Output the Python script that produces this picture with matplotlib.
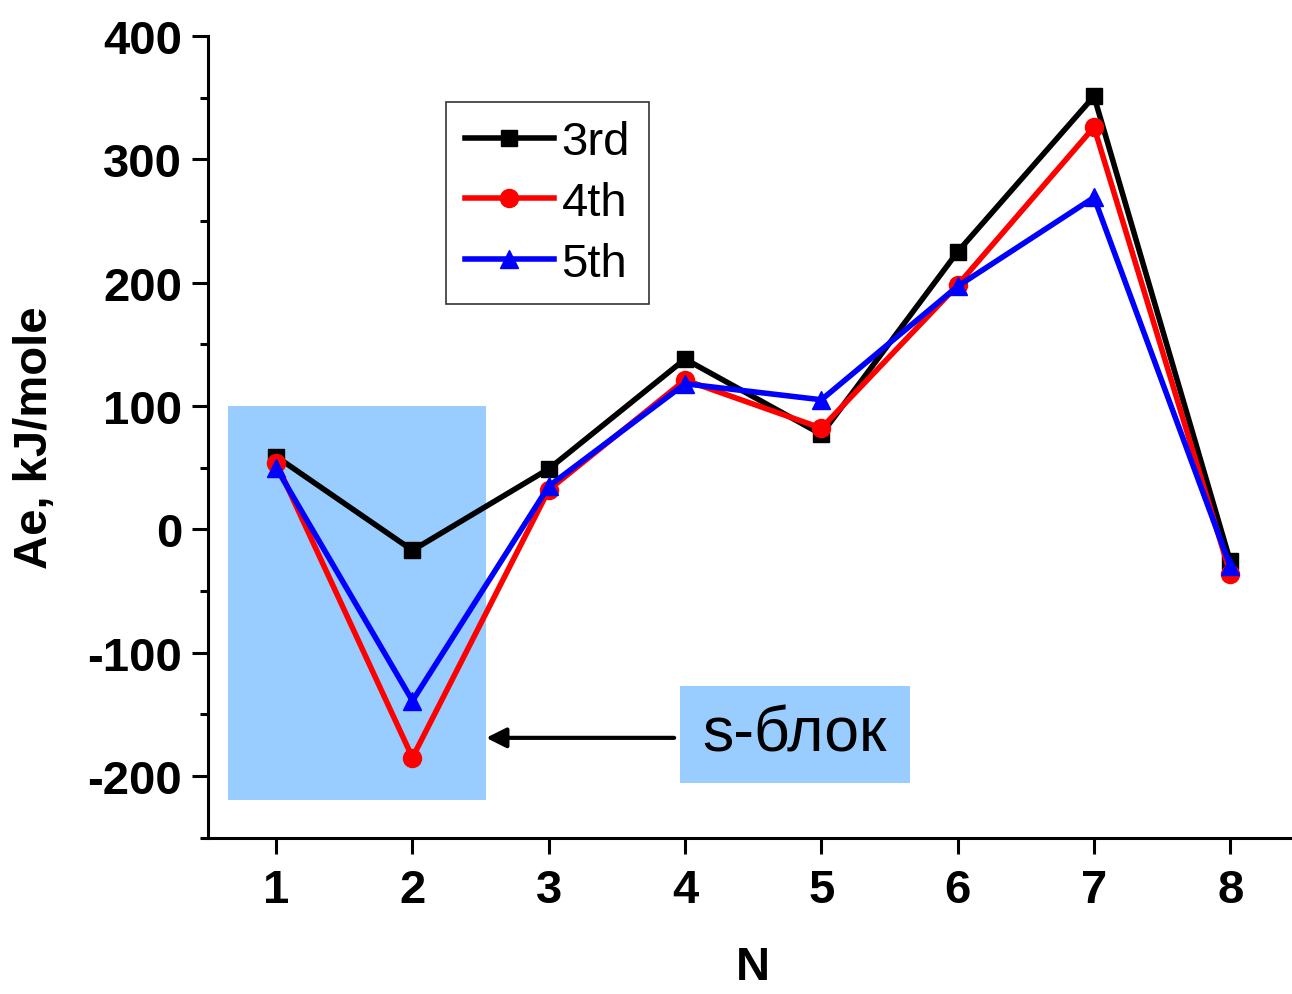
import matplotlib
matplotlib.use("Agg")
import matplotlib.pyplot as plt
from matplotlib.patches import Rectangle
from matplotlib.ticker import MultipleLocator

plt.rcParams['font.family'] = ['Liberation Sans', 'DejaVu Sans']
plt.rcParams['axes.unicode_minus'] = False

n = [1, 2, 3, 4, 5, 6, 7, 8]
third = [59, -17, 49, 138, 77, 225, 351, -26]
fourth = [54, -185, 32, 121, 82, 198, 326, -36]
fifth = [50, -139, 35, 118, 105, 197, 269, -30]
labels = ["3rd", "4th", "5th"]

fig = plt.figure(figsize=(12.92, 9.95), dpi=100)
ax = fig.add_axes([0.161, 0.157, 0.844, 0.806])

# s-block highlight
ax.add_patch(Rectangle((0.65, -219), 1.89, 319, facecolor="#99ccff", edgecolor="none", zorder=0))
ax.add_patch(Rectangle((3.96, -206), 1.69, 79, facecolor="#99ccff", edgecolor="none", zorder=0))
ax.text(4.8, -166, "s-блок", fontsize=45, ha="center", va="center", zorder=1)
ax.annotate("", xy=(2.54, -169), xytext=(3.92, -169),
            arrowprops=dict(arrowstyle="-|>", color="black", lw=3, mutation_scale=30,
                            shrinkA=0, shrinkB=0), zorder=1)

ax.plot(n, third, color="black", lw=4, marker="s", ms=11.5, label=labels[0], zorder=3)
ax.plot(n, fourth, color="red", lw=4, marker="o", ms=13, label=labels[1], zorder=4)
ax.plot(n, fifth, color="blue", lw=4, marker="^", ms=13, label=labels[2], zorder=5)

ax.set_xlim(0.5, 8.5)
ax.set_ylim(-250, 400)
ax.set_xticks(n)
ax.yaxis.set_major_locator(MultipleLocator(100))
ax.yaxis.set_minor_locator(MultipleLocator(50))

for s in ["top", "right"]:
    ax.spines[s].set_visible(False)
for s in ["left", "bottom"]:
    ax.spines[s].set_linewidth(2.2)

ax.tick_params(which="major", direction="out", length=11.5, width=2.2, labelsize=34, pad=7)
ax.tick_params(axis="x", which="major", pad=10)
ax.tick_params(which="minor", direction="out", length=6, width=2.2)
for t in ax.get_xticklabels() + ax.get_yticklabels():
    t.set_fontweight("bold")

ax.set_xlabel("N", fontsize=34, fontweight="bold", labelpad=24)
ax.set_ylabel("Ae, kJ/mole", fontsize=34, fontweight="bold", labelpad=22)

leg = ax.legend(loc="upper left", bbox_to_anchor=(0.218, 0.918), fontsize=34,
                frameon=True, fancybox=False, handlelength=1.9, handletextpad=0.15,
                borderpad=0.4, labelspacing=0.35, borderaxespad=0)
leg.get_frame().set_edgecolor("black")
leg.get_frame().set_linewidth(1.2)

fig.savefig("out.png", dpi=100)
